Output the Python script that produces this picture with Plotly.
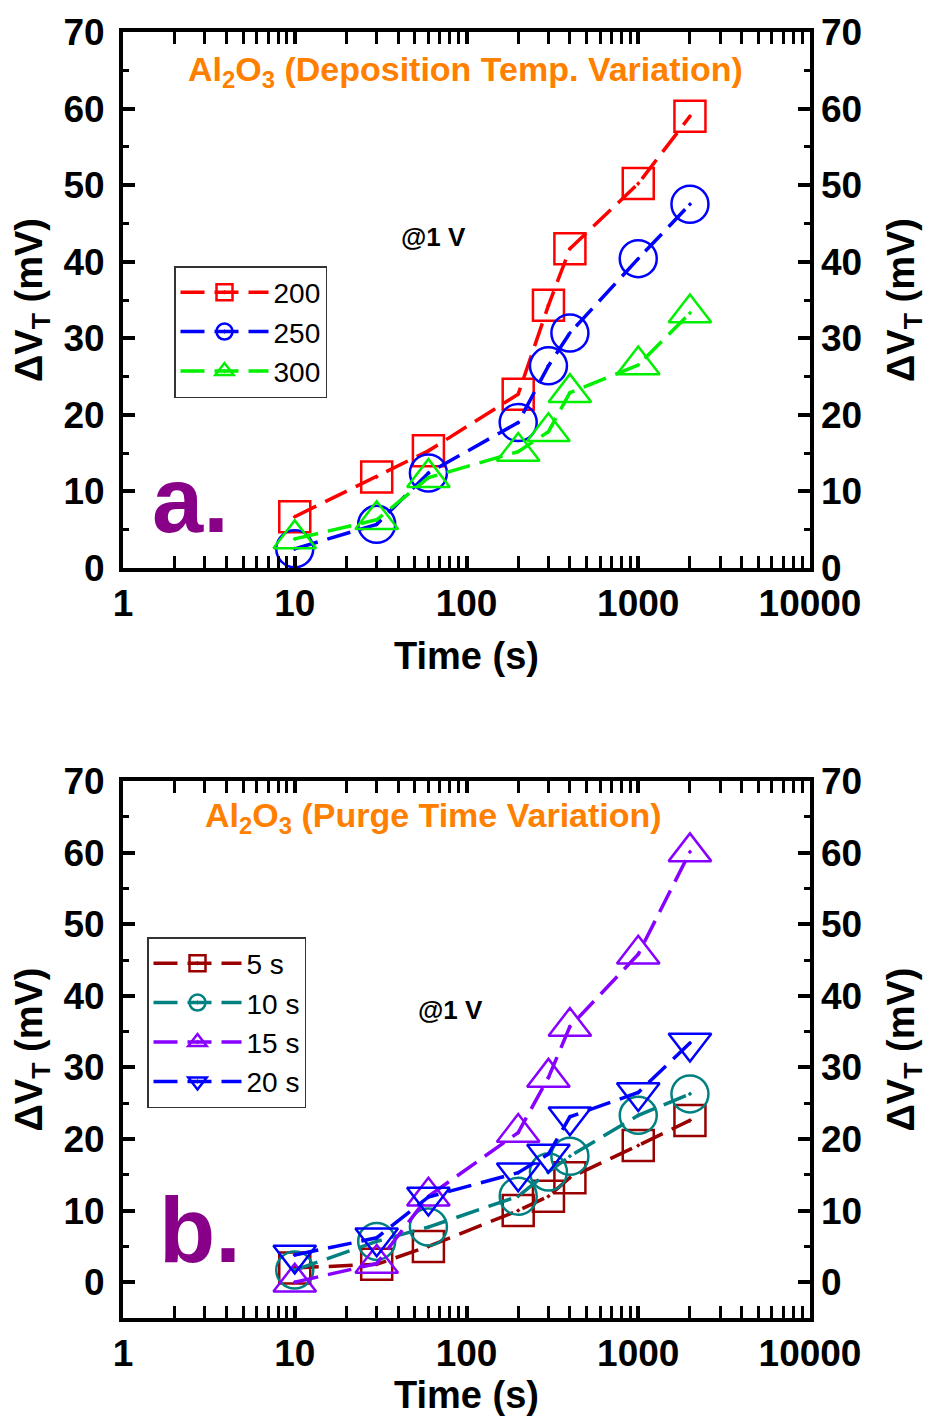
import plotly.graph_objects as go

# ---- data ----
time_s = [10, 30, 60, 200, 300, 400, 1000, 2000]

# panel a: deposition temperature
temp_labels = ["200", "250", "300"]
dvt_200 = [6.7, 11.9, 15.3, 22.7, 34.3, 41.7, 50.2, 59.0]
dvt_250 = [2.5, 5.7, 12.4, 19.0, 26.4, 30.7, 40.4, 47.5]
dvt_300 = [3.8, 6.3, 11.8, 15.2, 17.8, 22.9, 26.5, 33.3]

# panel b: purge time
purge_labels = ["5 s", "10 s", "15 s", "20 s"]
dvt_5s = [2.0, 2.5, 5.0, 10.0, 12.0, 14.6, 19.1, 22.6]
dvt_10s = [1.7, 5.7, 7.7, 12.0, 15.4, 17.6, 23.3, 26.3]
dvt_15s = [0.0, 2.6, 12.0, 20.9, 28.6, 35.7, 45.8, 60.1]
dvt_20s = [3.8, 6.2, 11.9, 15.3, 17.9, 23.1, 26.5, 33.4]

x_tickvals = [1, 10, 100, 1000, 10000]
x_ticktext = ["1", "10", "100", "1000", "10000"]
y_tickvals = [0, 10, 20, 30, 40, 50, 60, 70]

FONT = "Liberation Sans, Arial, sans-serif"
OFF = 8               # page body margin
W, H = 932 - OFF, 1416 - OFF

def px_x(p):
    return (p - OFF) / W

def px_y(p):
    return 1 - (p - OFF) / H

fig = go.Figure()

series_a = [
    (temp_labels[0], dvt_200, "#FF0000", "square-open-dot", 31),
    (temp_labels[1], dvt_250, "#0000FF", "circle-open-dot", 37),
    (temp_labels[2], dvt_300, "#00F000", "triangle-up-open-dot", 37),
]
series_b = [
    (purge_labels[0], dvt_5s, "#990000", "square-open-dot", 31),
    (purge_labels[1], dvt_10s, "#008080", "circle-open-dot", 37),
    (purge_labels[2], dvt_15s, "#8800FF", "triangle-up-open-dot", 37),
    (purge_labels[3], dvt_20s, "#0000FF", "triangle-down-open-dot", 37),
]

for name, vals, col, sym, sz in series_a:
    fig.add_trace(go.Scatter(
        x=time_s, y=vals, name=name, mode="lines+markers",
        xaxis="x", yaxis="y", legend="legend",
        line=dict(color=col, width=3.5, dash="24px,10px"),
        marker=dict(symbol=sym, size=sz, color=col, line=dict(color=col, width=2.5)),
    ))

for name, vals, col, sym, sz in series_b:
    fig.add_trace(go.Scatter(
        x=time_s, y=vals, name=name, mode="lines+markers",
        xaxis="x2", yaxis="y2", legend="legend2",
        line=dict(color=col, width=3.5, dash="24px,10px"),
        marker=dict(symbol=sym, size=sz, color=col, line=dict(color=col, width=2.5)),
    ))

# invisible carriers so the right-hand axes get drawn
fig.add_trace(go.Scatter(x=time_s, y=dvt_200, xaxis="x", yaxis="y3", mode="markers",
                         marker=dict(opacity=0), showlegend=False, hoverinfo="skip"))
fig.add_trace(go.Scatter(x=time_s, y=dvt_5s, xaxis="x2", yaxis="y4", mode="markers",
                         marker=dict(opacity=0), showlegend=False, hoverinfo="skip"))

minor_vals = [m * 10 ** d for d in range(4) for m in range(2, 10)]

tickfont = dict(family=FONT, size=37, color="black", weight="bold")
titlefont = dict(family=FONT, size=38, color="black", weight="bold")

def xaxis_cfg(anchor):
    return dict(
        type="log", range=[0, 4], domain=[px_x(123), px_x(810)], anchor=anchor,
        tickmode="array", tickvals=x_tickvals, ticktext=x_ticktext,
        ticks="inside", ticklen=12, tickwidth=4, tickcolor="black",
        minor=dict(tickmode="array", tickvals=minor_vals, ticks="inside",
                   ticklen=6, tickwidth=3, tickcolor="black", showgrid=False),
        showline=True, linewidth=4, linecolor="black", mirror="allticks",
        showgrid=False, zeroline=False, tickfont=tickfont, automargin=False,
        title=dict(text="Time (s)", font=titlefont, standoff=20),
    )

def yaxis_cfg(anchor, rng, dom):
    return dict(
        range=rng, domain=dom, anchor=anchor,
        tickmode="array", tickvals=y_tickvals,
        ticks="inside", ticklen=12, tickwidth=4, tickcolor="black",
        minor=dict(dtick=5, ticks="inside", ticklen=6, tickwidth=3,
                   tickcolor="black", showgrid=False),
        showline=True, linewidth=4, linecolor="black", mirror="allticks",
        showgrid=False, zeroline=False, tickfont=tickfont, ticklabelstandoff=7,
        automargin=False,
        title=dict(text="ΔV<sub>T</sub> (mV)", font=titlefont, standoff=10),
    )

def yaxis_right(overlay, anchor, rng, dom):
    return dict(
        range=rng, domain=dom, anchor=anchor, overlaying=overlay, side="right",
        tickmode="array", tickvals=y_tickvals, ticks="",
        showline=False, showgrid=False, zeroline=False, tickfont=tickfont,
        ticklabelstandoff=10, automargin=False,
        title=dict(text="ΔV<sub>T</sub> (mV)", font=titlefont, standoff=26),
    )

dom_a = [px_y(568), px_y(32)]
dom_b = [px_y(1318), px_y(781)]

legend_common = dict(xanchor="left", yanchor="top",
                     bgcolor="white", bordercolor="#333333", borderwidth=1.5,
                     font=dict(family=FONT, size=28, color="black"),
                     itemwidth=88, tracegroupgap=0)

fig.update_layout(
    width=W, height=H,
    margin=dict(l=0, r=0, t=0, b=0, autoexpand=False),
    paper_bgcolor="white", plot_bgcolor="white",
    font=dict(family=FONT, color="black"),
    xaxis=xaxis_cfg("y"),
    yaxis=yaxis_cfg("x", [0, 70], dom_a),
    yaxis3=yaxis_right("y", "x", [0, 70], dom_a),
    xaxis2=xaxis_cfg("y2"),
    yaxis2=yaxis_cfg("x2", [-5, 70], dom_b),
    yaxis4=yaxis_right("y2", "x2", [-5, 70], dom_b),
    legend=dict(x=px_x(174), y=px_y(266), **legend_common),
    legend2=dict(x=px_x(147), y=px_y(937), **legend_common),
    showlegend=True,
)

def note(text, xp, yp, font):
    fig.add_annotation(text=text, x=px_x(xp), y=px_y(yp), xref="paper", yref="paper",
                       showarrow=False, font=font, xanchor="center", yanchor="middle")

ann_orange = dict(family=FONT, size=34, color="#FF8000", weight="bold")
note("Al<sub>2</sub>O<sub>3</sub> (Deposition Temp. Variation)", 465, 72, ann_orange)
note("Al<sub>2</sub>O<sub>3</sub> (Purge Time Variation)", 433, 817, ann_orange)

at_font = dict(family=FONT, size=26, color="black", weight="bold")
note("@1 V", 433, 237, at_font)
note("@1 V", 450, 1010, at_font)

big_font = dict(family=FONT, size=92, color="#880088", weight="bold")
note("a.", 190, 500, big_font)
note("b.", 200, 1230, big_font)

fig.write_html("out.html")
